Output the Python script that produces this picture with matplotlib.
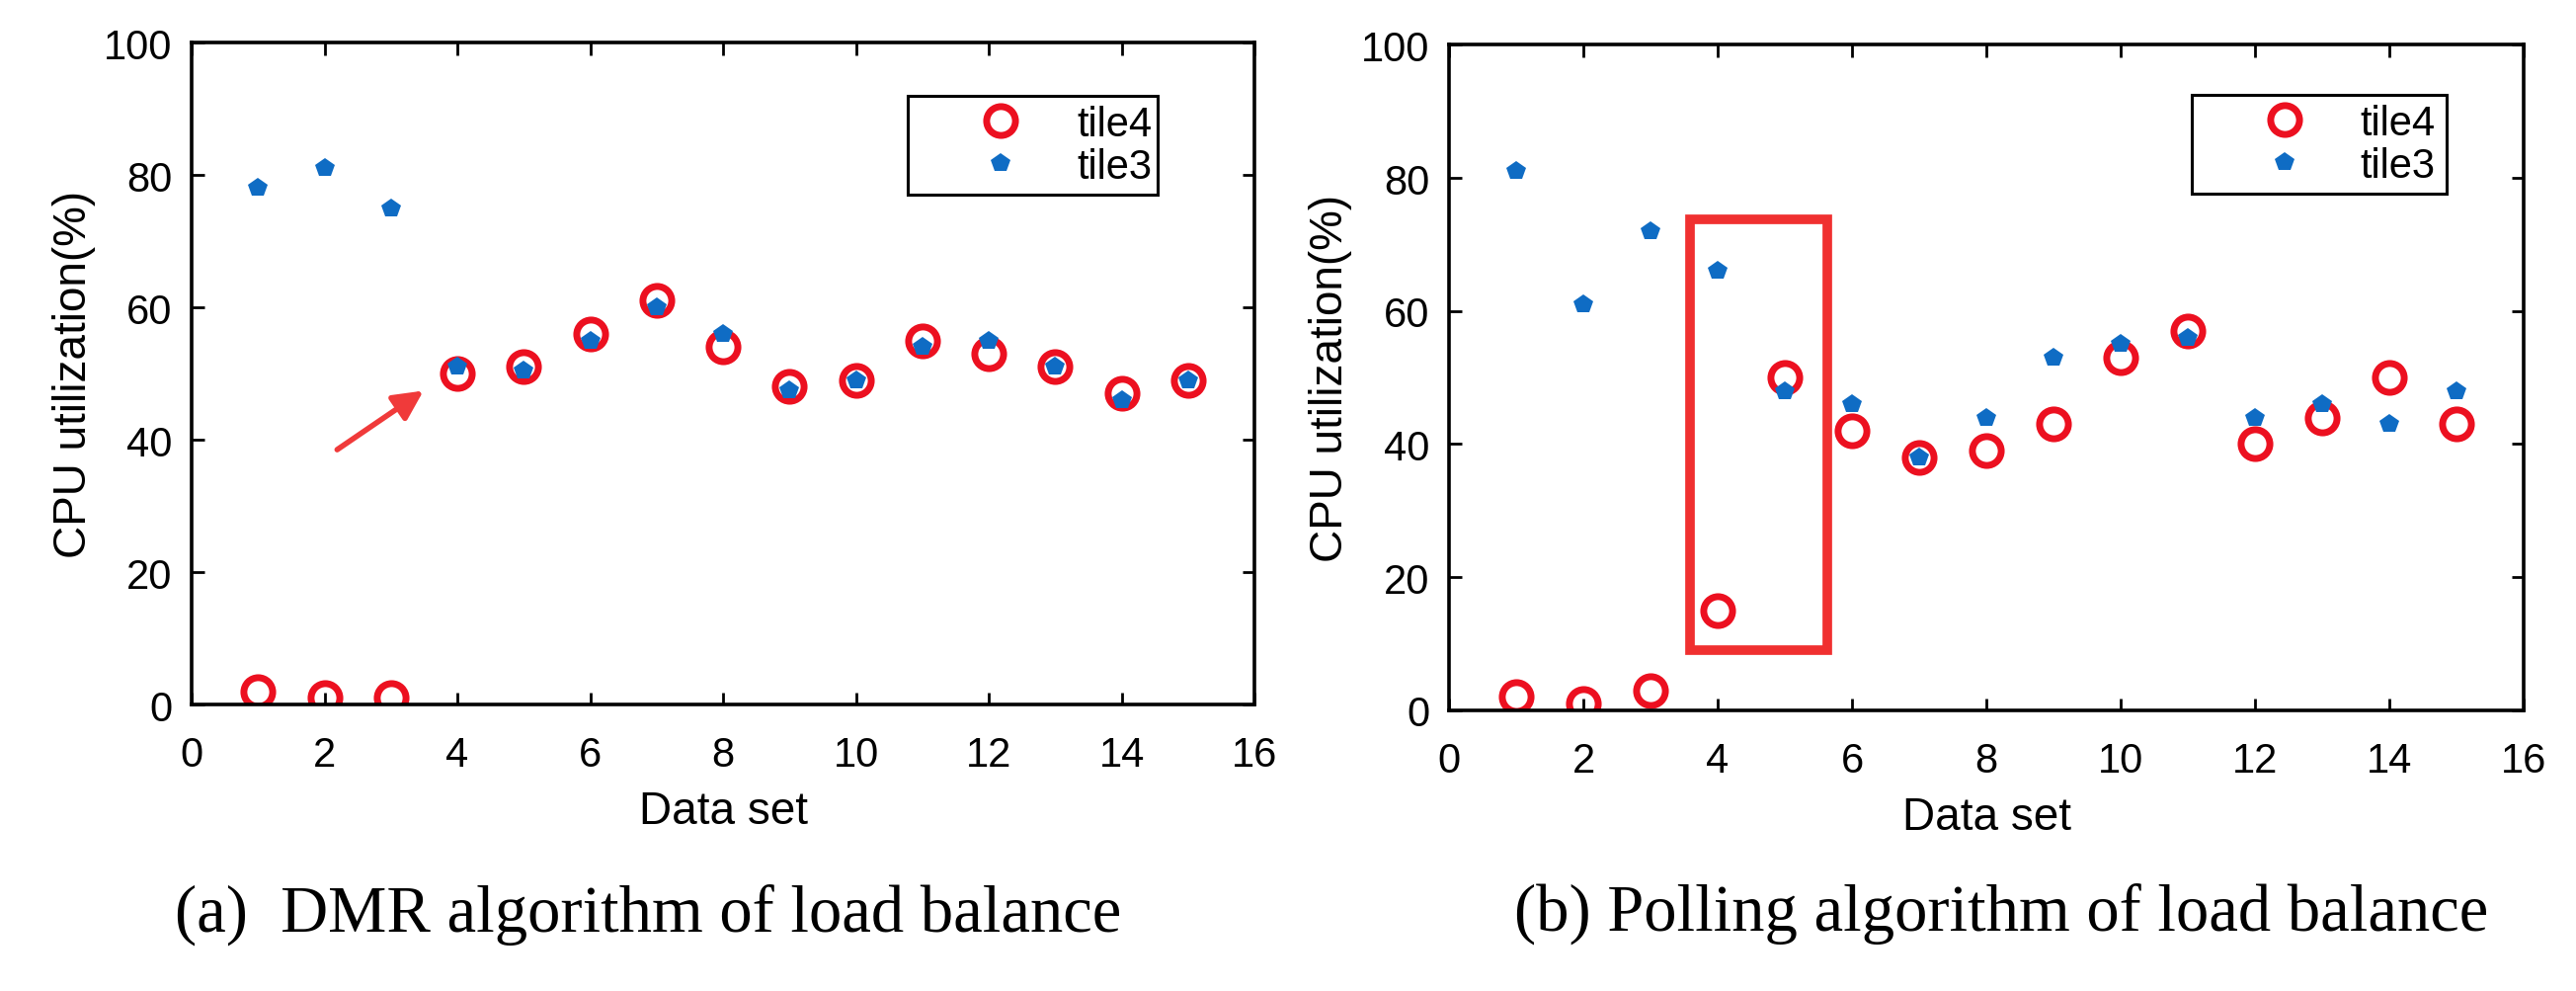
import matplotlib
matplotlib.use('Agg')
import matplotlib.pyplot as plt
from matplotlib.patches import Rectangle

plt.rcParams['font.family'] = ['Liberation Sans', 'DejaVu Sans']

# Данные: номер набора и загрузка CPU (%)
data_set = [1, 2, 3, 4, 5, 6, 7, 8, 9, 10, 11, 12, 13, 14, 15]

dmr_tile4 = [2, 1, 1, 50, 51, 56, 61, 54, 48, 49, 55, 53, 51, 47, 49]
dmr_tile3 = [78, 81, 75, 51, 50.5, 55, 60, 56, 47.5, 49, 54, 55, 51, 46, 49]

poll_tile4 = [2, 1, 3, 15, 50, 42, 38, 39, 43, 53, 57, 40, 44, 50, 43]
poll_tile3 = [81, 61, 72, 66, 48, 46, 38, 44, 53, 55, 56, 44, 46, 43, 48]

x_ticks = [0, 2, 4, 6, 8, 10, 12, 14, 16]
y_ticks = [0, 20, 40, 60, 80, 100]

captions = ['(a)  DMR algorithm of load balance',
            '(b) Polling algorithm of load balance']

RED = '#ec1020'
BLUE = '#0f6cc4'

fig = plt.figure(figsize=(26.08, 10.04), dpi=100)
ax1 = fig.add_axes([0.0744, 0.2888, 0.4126, 0.6673])
ax2 = fig.add_axes([0.5625, 0.2829, 0.4172, 0.6710])


def style_axes(ax, series4, series3, legend_box):
    ax.plot(data_set, series4, linestyle='none', marker='o', markersize=21,
            markerfacecolor='none', markeredgecolor=RED, markeredgewidth=5,
            label='tile4')
    ax.plot(data_set, series3, linestyle='none', marker='p', markersize=15,
            markerfacecolor=BLUE, markeredgecolor=BLUE, markeredgewidth=0,
            label='tile3')
    ax.set_xlim(0, 16)
    ax.set_ylim(0, 100)
    ax.set_xticks(x_ticks)
    ax.set_yticks(y_ticks)
    ax.tick_params(direction='in', top=True, right=True, length=9, width=2,
                   labelsize=30)
    ax.tick_params(axis='x', pad=22)
    ax.tick_params(axis='y', pad=14)
    for sp in ax.spines.values():
        sp.set_linewidth(2.6)
        sp.set_color('black')
    ax.set_xlabel('Data set', fontsize=33)
    ax.set_ylabel('CPU utilization(%)', fontsize=33)
    ax.xaxis.set_label_coords(0.5, -0.128)
    ax.yaxis.set_label_coords(-0.090, 0.5)
    leg = ax.legend(loc='upper left', bbox_to_anchor=legend_box, mode='expand',
                    fontsize=30, handlelength=4.1, handletextpad=-0.2,
                    borderpad=0.2, labelspacing=0.07, fancybox=False,
                    framealpha=1, borderaxespad=0)
    leg.get_frame().set_edgecolor('black')
    leg.get_frame().set_linewidth(2.2)


style_axes(ax1, dmr_tile4, dmr_tile3, (0.674, 0.919, 0.235, 0.0))
style_axes(ax2, poll_tile4, poll_tile3, (0.691, 0.924, 0.237, 0.0))

# Стрелка на левом графике
ax1.annotate('', xy=(3.49, 47.4), xytext=(2.19, 38.5),
             arrowprops=dict(arrowstyle='-|>', color='#f03a3a', lw=4,
                             mutation_scale=45, shrinkA=0, shrinkB=0))

# Рамка на правом графике
ax2.add_patch(Rectangle((3.59, 9.0), 2.04, 64.7, fill=False,
                        edgecolor='#f03030', linewidth=7))

fig.text(0.0679, 0.0608, captions[0], family=['Liberation Serif', 'DejaVu Serif'],
         fontsize=48, ha='left', va='baseline')
fig.text(0.5878, 0.0618, captions[1], family=['Liberation Serif', 'DejaVu Serif'],
         fontsize=48, ha='left', va='baseline')

fig.savefig('out.png', dpi=100)
